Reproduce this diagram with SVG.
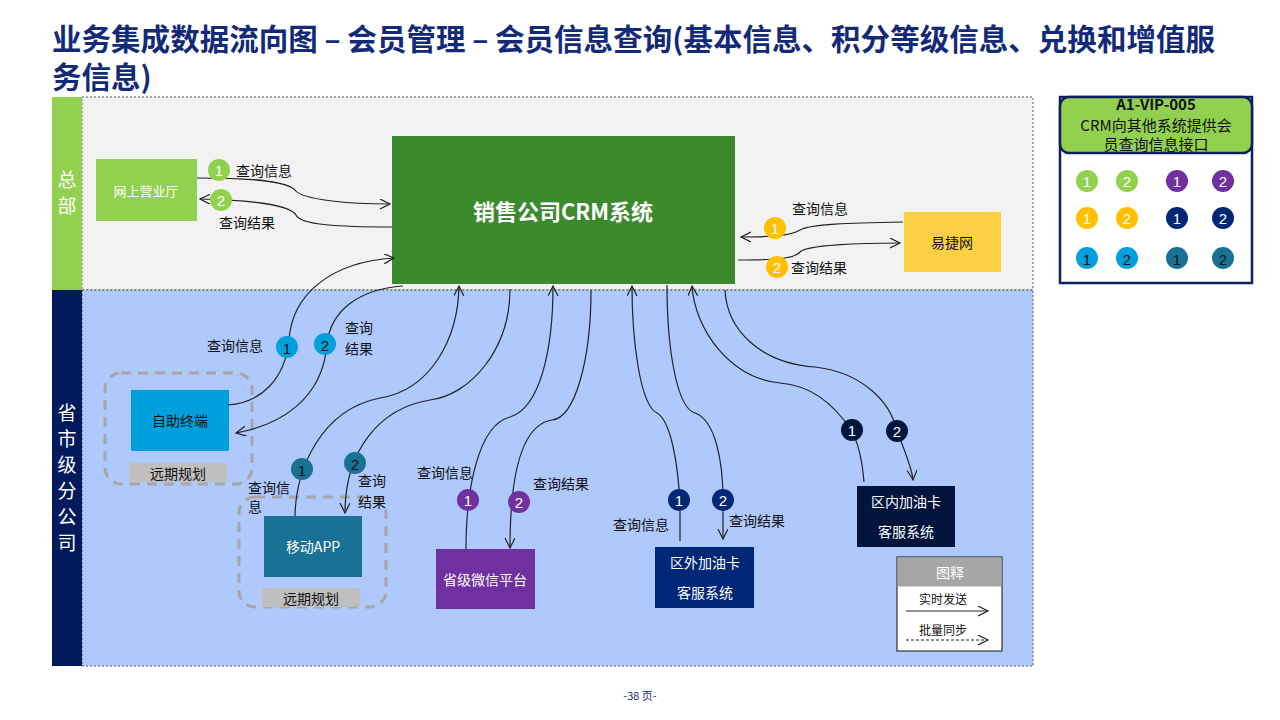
<svg xmlns="http://www.w3.org/2000/svg" width="1280" height="720" viewBox="0 0 1280 720">
<defs>
<marker id="arr" markerWidth="12" markerHeight="12" refX="10" refY="5" orient="auto" markerUnits="userSpaceOnUse">
<path d="M0,0 L10,5 L0,10" fill="none" stroke="#222" stroke-width="1.2"/>
</marker>
</defs>
<style>
.t{font-family:"Noto Sans CJK SC","Microsoft YaHei",sans-serif;}
.title{font-family:"Noto Sans CJK SC",sans-serif;font-weight:bold;font-size:29.5px;fill:#132a78;}
.lbl{font-family:"Noto Sans CJK SC",sans-serif;font-size:14px;fill:#111;}
.nt{font-family:"Noto Sans CJK SC",sans-serif;font-size:14px;text-anchor:middle;dominant-baseline:central;}
.cn{font-family:"Liberation Sans",sans-serif;font-size:15px;text-anchor:middle;dominant-baseline:central;}
.conn path{fill:none;stroke:#222;stroke-width:1.2;}
.dash{fill:none;stroke:#A6A6A6;stroke-width:3;stroke-dasharray:10 7;}
.lane{font-family:"Noto Sans CJK SC",sans-serif;font-size:19px;fill:#fff;text-anchor:middle;}
</style>
<rect width="1280" height="720" fill="#fff"/>
<text class="title" x="52" y="50" textLength="1163" lengthAdjust="spacing">业务集成数据流向图 – 会员管理 – 会员信息查询(基本信息、积分等级信息、兑换和增值服</text>
<text class="title" x="52" y="88">务信息)</text>

<g id="lanes">
<rect x="82" y="97" width="951" height="193" fill="#F2F2F2" stroke="#333" stroke-width="0.8" stroke-dasharray="2 2"/>
<rect x="82" y="290" width="951" height="376" fill="#AFC9FC" stroke="#333" stroke-width="0.8" stroke-dasharray="2 2"/>
<rect x="52" y="97" width="30" height="193" fill="#92D050"/>
<rect x="52" y="290" width="30" height="376" fill="#001A5C"/>
<text class="lane" x="67" y="187">总</text>
<text class="lane" x="67" y="213">部</text>
<text class="lane" x="67" y="420">省</text><text class="lane" x="67" y="446">市</text><text class="lane" x="67" y="472">级</text><text class="lane" x="67" y="498">分</text><text class="lane" x="67" y="524">公</text><text class="lane" x="67" y="550">司</text>
</g>

<g id="plan1"><rect class="dash" x="105" y="373" width="147" height="111" rx="16"/><rect x="129" y="463" width="98" height="19" fill="#BFBFBF"/><text class="nt" x="178" y="473" fill="#111">远期规划</text></g>
<g id="plan2"><rect class="dash" x="239" y="497" width="147" height="110" rx="16"/><rect x="262" y="588" width="98" height="19" fill="#BFBFBF"/><text class="nt" x="311" y="598" fill="#111">远期规划</text></g>

<g id="n-wsyyt"><rect x="96" y="159" width="101" height="62" fill="#92D050"/><text class="nt" x="146" y="190" fill="#fff" style="font-size:13px">网上营业厅</text></g>
<g id="n-crm"><rect x="392" y="136" width="343" height="148" fill="#3C8A2E"/><text class="nt" x="563" y="210" fill="#fff" style="font-size:22px;font-weight:bold">销售公司CRM系统</text></g>
<g id="n-yjw"><rect x="904" y="212" width="97" height="60" fill="#FCCF45"/><text class="nt" x="952" y="242" fill="#111">易捷网</text></g>
<g id="n-zzzd"><rect x="131" y="390" width="98" height="61" fill="#00A0DC"/><text class="nt" x="180" y="420" fill="#111">自助终端</text></g>
<g id="n-app"><rect x="264" y="516" width="98" height="61" fill="#1A7196"/><text class="nt" x="313" y="546" fill="#fff">移动APP</text></g>
<g id="n-wx"><rect x="436" y="549" width="99" height="60" fill="#7030A0"/><text class="nt" x="485" y="579" fill="#fff">省级微信平台</text></g>
<g id="n-qw"><rect x="655" y="547" width="99" height="61" fill="#002776"/><text class="nt" x="705" y="562" fill="#fff">区外加油卡</text><text class="nt" x="705" y="592" fill="#fff">客服系统</text></g>
<g id="n-qn"><rect x="857" y="486" width="98" height="61" fill="#00143C"/><text class="nt" x="906" y="501" fill="#fff">区内加油卡</text><text class="nt" x="906" y="531" fill="#fff">客服系统</text></g>

<g id="connectors" class="conn">
<path d="M197,178 C260,178 288,182 295,190 C302,200 350,204 390,204" marker-end="url(#arr)"/>
<path d="M392,227 C340,227 300,225 296,215 C290,205 250,200 200,199" marker-end="url(#arr)"/>
<path d="M903,222 C850,223 810,224 800,230 C790,236 770,237 741,237" marker-end="url(#arr)"/>
<path d="M738,260 C780,260 795,258 800,252 C806,245 860,243 900,243" marker-end="url(#arr)"/>
<path d="M228,405 C260,403 285,380 289,340 C292,295 330,262 394,258" marker-end="url(#arr)"/>
<path d="M403,286 C360,289 330,310 327,345 C322,400 280,425 236,433" marker-end="url(#arr)"/>
<path d="M295,516 C296,470 320,410 380,398 C430,390 458,340 459,286" marker-end="url(#arr)"/>
<path d="M510,289 C510,350 470,395 430,400 C380,408 345,450 345,513" marker-end="url(#arr)"/>
<path d="M466,549 C466,490 478,425 510,417 C540,408 553,350 553,286" marker-end="url(#arr)"/>
<path d="M591,290 C591,360 575,418 552,420 C520,425 510,480 510,548" marker-end="url(#arr)"/>
<path d="M680,541 L680,505 C678,460 670,420 657,413 C640,405 632,340 632,286" marker-end="url(#arr)"/>
<path d="M667,285 C667,350 677,408 695,413 C715,420 723,460 723,500 L723,539" marker-end="url(#arr)"/>
<path d="M864,482 C862,458 857,440 851,430 C830,398 805,385 780,383 C730,378 695,330 692,286" marker-end="url(#arr)"/>
<path d="M725,290 C727,330 760,363 815,367 C860,372 890,400 897,431 C905,452 912,468 913,480" marker-end="url(#arr)"/>
</g>

<g id="badges">
<circle cx="219" cy="170" r="11" fill="#92D050"/><text class="cn" x="219" y="170" fill="#fff">1</text>
<circle cx="221" cy="200" r="11" fill="#92D050"/><text class="cn" x="221" y="200" fill="#fff">2</text>
<circle cx="775" cy="228" r="11" fill="#FFC000"/><text class="cn" x="775" y="228" fill="#fff">1</text>
<circle cx="777" cy="267" r="11" fill="#FFC000"/><text class="cn" x="777" y="267" fill="#fff">2</text>
<circle cx="287" cy="347" r="11" fill="#00A0DC"/><text class="cn" x="287" y="348" fill="#111">1</text>
<circle cx="325" cy="344" r="11" fill="#00A0DC"/><text class="cn" x="325" y="345" fill="#111">2</text>
<circle cx="302" cy="469" r="11" fill="#1A7196"/><text class="cn" x="302" y="470" fill="#111">1</text>
<circle cx="355" cy="463" r="11" fill="#1A7196"/><text class="cn" x="355" y="464" fill="#111">2</text>
<circle cx="468" cy="500" r="11" fill="#7030A0"/><text class="cn" x="468" y="500" fill="#fff">1</text>
<circle cx="519" cy="502" r="11" fill="#7030A0"/><text class="cn" x="519" y="502" fill="#fff">2</text>
<circle cx="679" cy="500" r="11" fill="#002776"/><text class="cn" x="679" y="500" fill="#fff">1</text>
<circle cx="723" cy="500" r="11" fill="#002776"/><text class="cn" x="723" y="500" fill="#fff">2</text>
<circle cx="852" cy="430" r="11" fill="#00143C"/><text class="cn" x="852" y="430" fill="#fff">1</text>
<circle cx="897" cy="431" r="11" fill="#00143C"/><text class="cn" x="897" y="431" fill="#fff">2</text>
</g>

<g id="labels">
<text class="lbl" x="236" y="176">查询信息</text>
<text class="lbl" x="219" y="228">查询结果</text>
<text class="lbl" x="792" y="214">查询信息</text>
<text class="lbl" x="791" y="273">查询结果</text>
<text class="lbl" x="207" y="351">查询信息</text>
<text class="lbl" x="345" y="333">查询</text>
<text class="lbl" x="345" y="354">结果</text>
<text class="lbl" x="248" y="493">查询信</text>
<text class="lbl" x="248" y="512">息</text>
<text class="lbl" x="358" y="486">查询</text>
<text class="lbl" x="358" y="507">结果</text>
<text class="lbl" x="417" y="478">查询信息</text>
<text class="lbl" x="533" y="489">查询结果</text>
<text class="lbl" x="613" y="530">查询信息</text>
<text class="lbl" x="729" y="526">查询结果</text>
</g>

<g id="legend-key">
<rect x="897" y="557" width="105" height="94" fill="#fff" stroke="#111" stroke-width="1"/>
<rect x="897.5" y="557.5" width="104" height="29" fill="#A6A6A6"/>
<text class="nt" x="950" y="572" fill="#fff">图释</text>
<text class="t" x="943" y="604" font-size="12" text-anchor="middle" fill="#111">实时发送</text>
<path d="M906,611 L988,611" stroke="#222" stroke-width="1" marker-end="url(#arr)" fill="none"/>
<text class="t" x="943" y="635" font-size="12" text-anchor="middle" fill="#111">批量同步</text>
<path d="M906,640 L988,640" stroke="#222" stroke-width="1" stroke-dasharray="3 2" marker-end="url(#arr)" fill="none"/>
</g>

<g id="legend-id">
<rect x="1060" y="97" width="192" height="186" fill="#fff" stroke="#0D1F5C" stroke-width="2.5"/>
<rect x="1060" y="97" width="192" height="56" rx="9" fill="#92D050" stroke="#0D1F5C" stroke-width="2.5"/>
<text class="t" x="1156" y="110" font-size="15" font-weight="bold" text-anchor="middle" fill="#111">A1-VIP-005</text>
<text class="t" x="1156" y="131" font-size="15" text-anchor="middle" fill="#111">CRM向其他系统提供会</text>
<text class="t" x="1156" y="150" font-size="15" text-anchor="middle" fill="#111">员查询信息接口</text>
<circle cx="1087" cy="181" r="11" fill="#92D050"/><text class="cn" x="1087" y="181" fill="#fff">1</text>
<circle cx="1127" cy="181" r="11" fill="#92D050"/><text class="cn" x="1127" y="181" fill="#fff">2</text>
<circle cx="1177" cy="181" r="11" fill="#7030A0"/><text class="cn" x="1177" y="181" fill="#fff">1</text>
<circle cx="1223" cy="181" r="11" fill="#7030A0"/><text class="cn" x="1223" y="181" fill="#fff">2</text>
<circle cx="1087" cy="218" r="11" fill="#FFC000"/><text class="cn" x="1087" y="218" fill="#fff">1</text>
<circle cx="1127" cy="218" r="11" fill="#FFC000"/><text class="cn" x="1127" y="218" fill="#fff">2</text>
<circle cx="1177" cy="218" r="11" fill="#002776"/><text class="cn" x="1177" y="218" fill="#fff">1</text>
<circle cx="1223" cy="218" r="11" fill="#002776"/><text class="cn" x="1223" y="218" fill="#fff">2</text>
<circle cx="1087" cy="258" r="11" fill="#00A0DC"/><text class="cn" x="1087" y="259" fill="#111">1</text>
<circle cx="1127" cy="258" r="11" fill="#00A0DC"/><text class="cn" x="1127" y="259" fill="#111">2</text>
<circle cx="1177" cy="258" r="11" fill="#1A7196"/><text class="cn" x="1177" y="259" fill="#111">1</text>
<circle cx="1223" cy="258" r="11" fill="#1A7196"/><text class="cn" x="1223" y="259" fill="#111">2</text>
</g>

<text class="t" x="640" y="700" font-size="11" text-anchor="middle" fill="#1a2a6c">-38 页-</text>
</svg>
